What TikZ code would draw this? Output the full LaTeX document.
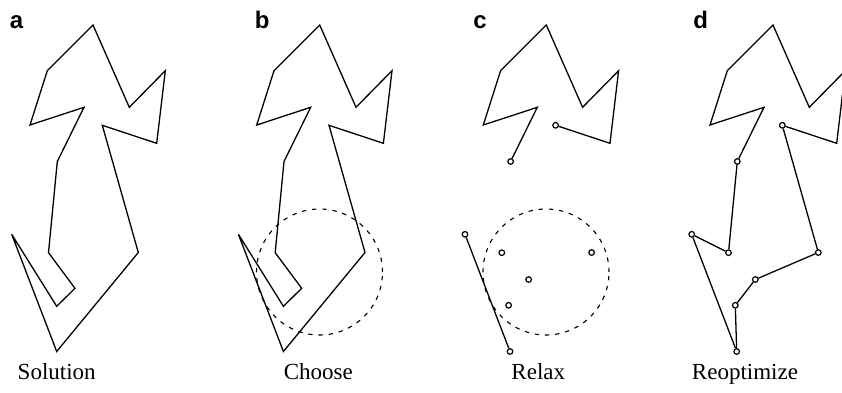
\documentclass[tikz,border=0pt]{standalone}
\usepackage{fontspec}
\setmainfont{Liberation Serif}
\newfontfamily\panelfont{Liberation Sans}
\begin{document}
\begin{tikzpicture}[x=0.5pt,y=-0.5pt,
  tour/.style={line width=0.65pt,line join=miter},
  city/.style={circle,draw,line width=0.6pt,inner sep=0pt,minimum size=2.8pt},
  choice/.style={circle,draw,line width=0.55pt,dash pattern=on 2.2pt off 2.9pt,inner sep=0pt,minimum size=63pt},
  panel/.style={anchor=base west,inner sep=0pt,font=\panelfont\bfseries\fontsize{12}{14}\selectfont},
  step label/.style={anchor=base,inner sep=0pt,font=\fontsize{11.5}{13}\selectfont}]

\useasboundingbox (0,0) rectangle (842,392);
\clip (0,0) rectangle (842,392);

% city positions of one tour, relative to the panel origin
\newcommand\tourpts[1]{%
  \coordinate (#1-1)  at (93,25);
  \coordinate (#1-2)  at (47.3,70.7);
  \coordinate (#1-3)  at (30,125);
  \coordinate (#1-4)  at (84,107.3);
  \coordinate (#1-5)  at (57.3,161.5);
  \coordinate (#1-6)  at (48.5,252.7);
  \coordinate (#1-7)  at (75,288.3);
  \coordinate (#1-8)  at (56.7,306.3);
  \coordinate (#1-9)  at (11.7,234.3);
  \coordinate (#1-10) at (56.7,351.5);
  \coordinate (#1-11) at (138.3,252.5);
  \coordinate (#1-12) at (102.3,125.3);
  \coordinate (#1-13) at (156.7,143.3);
  \coordinate (#1-14) at (165.3,70.7);
  \coordinate (#1-15) at (129.3,107.3);
  \coordinate (#1-p)  at (75.3,279.5);
  \coordinate (#1-q)  at (55.3,305.3);
}

% (a) complete tour
\begin{scope}
  \tourpts{a}
  \draw[tour] (a-1) -- (a-2) -- (a-3) -- (a-4) -- (a-5) -- (a-6) -- (a-7) -- (a-8)
    -- (a-9) -- (a-10) -- (a-11) -- (a-12) -- (a-13) -- (a-14) -- (a-15) -- cycle;
\end{scope}

% (b) same tour with the chosen region
\begin{scope}[shift={(226.7,0)}]
  \tourpts{b}
  \draw[tour] (b-1) -- (b-2) -- (b-3) -- (b-4) -- (b-5) -- (b-6) -- (b-7) -- (b-8)
    -- (b-9) -- (b-10) -- (b-11) -- (b-12) -- (b-13) -- (b-14) -- (b-15) -- cycle;
  \node[choice] (b-region) at (92.8,272) {};
\end{scope}

% (c) relaxed: edges inside the region removed
\begin{scope}[shift={(453.3,0)}]
  \tourpts{c}
  \node[choice] (c-region) at (92.7,272) {};
  \foreach \k in {5,12,9,10,6,11,p,q} {\node[city] (c-\k n) at (c-\k) {};}
  \draw[tour] (c-5n) -- (c-4) -- (c-3) -- (c-2) -- (c-1) -- (c-15) -- (c-14) -- (c-13) -- (c-12n);
  \draw[tour] (c-9n) -- (c-10n);
\end{scope}

% (d) reoptimized tour
\begin{scope}[shift={(680,0)}]
  \tourpts{d}
  \foreach \k in {5,12,11,p,q,10,9,6} {\node[city] (d-\k n) at (d-\k) {};}
  \draw[tour] (d-5n) -- (d-4) -- (d-3) -- (d-2) -- (d-1) -- (d-15) -- (d-14) -- (d-13) -- (d-12n);
  \draw[tour] (d-12n) -- (d-11n);
  \draw[tour] (d-11n) -- (d-pn);
  \draw[tour] (d-pn) -- (d-qn);
  \draw[tour] (d-qn) -- (d-10n);
  \draw[tour] (d-10n) -- (d-9n);
  \draw[tour] (d-9n) -- (d-6n);
  \draw[tour] (d-6n) -- (d-5n);
\end{scope}

% panel letters
\node[panel] (la) at (9.5,28) {a};
\node[panel] (lb) at (254.5,28) {b};
\node[panel] (lc) at (473,28) {c};
\node[panel] (ld) at (693,28) {d};

% step captions
\node[step label] (sa) at (56.7,379) {Solution};
\node[step label] (sb) at (318.3,379) {Choose};
\node[step label] (sc) at (538.3,379) {Relax};
\node[step label] (sd) at (745,379) {Reoptimize};
\end{tikzpicture}
\end{document}
